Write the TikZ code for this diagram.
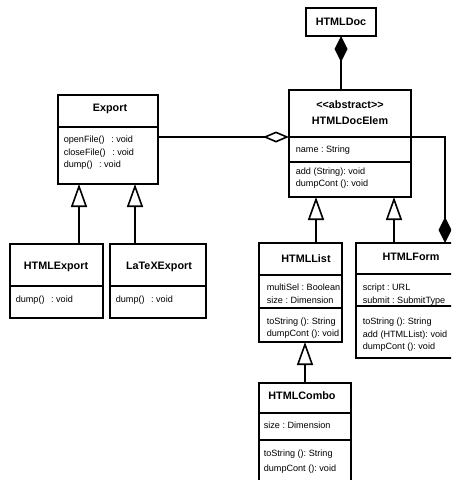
\documentclass[tikz,border=0pt]{standalone}
\usepackage{fontspec}
\setmainfont{Liberation Sans}
\usetikzlibrary{arrows.meta}
\newcommand{\opgap}{\kern6.5pt}
\begin{document}
\frenchspacing
\begin{tikzpicture}[x=1pt,y=-1pt,
  line width=1.6pt,
  classbox/.style={draw,rectangle,inner sep=0pt,outer sep=0pt,anchor=north west},
  title/.style={font=\fontsize{10.8}{12}\selectfont\bfseries,inner sep=0pt},
  member/.style={font=\fontsize{9.1}{11}\selectfont,inner sep=0pt,anchor=mid west},
  divider/.style={line width=1.4pt},
  inherit/.style={-{Triangle[open,length=23pt,width=16pt]}},
  compose/.style={-{Diamond[length=26pt,width=13pt]}},
  aggregate/.style={-{Diamond[open,length=26pt,width=11pt]}}]
\useasboundingbox (0,0) rectangle (451,480);
\clip (0,0) rectangle (451,480);

% class boxes
\node[classbox,minimum width=70pt,minimum height=28pt]  (htmldoc) at (306,8) {};
\node[classbox,minimum width=122pt,minimum height=107pt] (elem) at (289,90) {};
\node[classbox,minimum width=100pt,minimum height=89pt]  (export) at (58,95) {};
\node[classbox,minimum width=93pt,minimum height=74pt]   (htmlexport) at (10,244) {};
\node[classbox,minimum width=96pt,minimum height=74pt]   (latexexport) at (110,244) {};
\node[classbox,minimum width=83pt,minimum height=99pt]   (list) at (259,243) {};
\node[classbox,minimum width=110pt,minimum height=115pt] (form) at (356,243) {};
\node[classbox,minimum width=92pt,minimum height=120pt]  (combo) at (259,383) {};

% compartment lines
\draw[divider] (elem.west |- 0,137) -- (elem.east |- 0,137);
\draw[divider] (elem.west |- 0,162) -- (elem.east |- 0,162);
\draw[divider] (export.west |- 0,127) -- (export.east |- 0,127);
\draw[divider] (htmlexport.west |- 0,286) -- (htmlexport.east |- 0,286);
\draw[divider] (latexexport.west |- 0,286) -- (latexexport.east |- 0,286);
\draw[divider] (list.west |- 0,275) -- (list.east |- 0,275);
\draw[divider] (list.west |- 0,308) -- (list.east |- 0,308);
\draw[divider] (form.west |- 0,274) -- (form.east |- 0,274);
\draw[divider] (form.west |- 0,306) -- (form.east |- 0,306);
\draw[divider] (combo.west |- 0,413) -- (combo.east |- 0,413);
\draw[divider] (combo.west |- 0,440) -- (combo.east |- 0,440);

% HTMLDoc
\node[title] (t-htmldoc) at (341,22) {HTMLDoc};

% HTMLDocElem
\node[title] (s-elem) at (350,105) {{<}{<}abstract{>}{>}};
\node[title] (t-elem) at (350,121) {HTMLDocElem};
\node[member] (a-elem1) at (295,150) {name : String};
\node[member] (o-elem1) at (295,172) {add (String): void};
\node[member] (o-elem2) at (295,184) {dumpCont (): void};

% Export
\node[title] (t-export) at (110,109) {Export};
\node[member] (o-export1) at (63,140) {openFile()\opgap: void};
\node[member] (o-export2) at (63,153) {closeFile()\opgap: void};
\node[member] (o-export3) at (63,165) {dump()\opgap: void};

% HTMLExport
\node[title] (t-htmlexport) at (56,267) {HTMLExport};
\node[member] (o-htmlexport) at (15,300) {dump()\opgap: void};

% LaTeXExport
\node[title] (t-latexexport) at (159,267) {LaTeXExport};
\node[member] (o-latexexport) at (115,300) {dump()\opgap: void};

% HTMLList
\node[title] (t-list) at (306,259) {HTMLList};
\node[member] (a-list1) at (266,288) {multiSel : Boolean};
\node[member] (a-list2) at (266,301) {size : Dimension};
\node[member] (o-list1) at (266,322) {toString (): String};
\node[member] (o-list2) at (266,334) {dumpCont (): void};

% HTMLForm
\node[title] (t-form) at (411,257) {HTMLForm};
\node[member] (a-form1) at (362,288) {script : URL};
\node[member] (a-form2) at (362,301) {submit : SubmitType};
\node[member] (o-form1) at (362,322) {toString (): String};
\node[member] (o-form2) at (362,335) {add (HTMLList): void};
\node[member] (o-form3) at (362,347) {dumpCont (): void};

% HTMLCombo
\node[title] (t-combo) at (302,396) {HTMLCombo};
\node[member] (a-combo1) at (263,426) {size : Dimension};
\node[member] (o-combo1) at (263,454) {toString (): String};
\node[member] (o-combo2) at (263,469) {dumpCont (): void};

% associations
\draw[compose] (elem.north -| 341,0) -- (htmldoc.south -| 341,0);
\draw[aggregate] (export.east |- 0,137) -- (elem.west |- 0,137);
\draw[compose] (elem.east |- 0,137) -| (form.north -| 445,0);

% generalizations
\draw[inherit] (htmlexport.north -| 79,0) -- (export.south -| 79,0);
\draw[inherit] (latexexport.north -| 135,0) -- (export.south -| 135,0);
\draw[inherit] (list.north -| 316,0) -- (elem.south -| 316,0);
\draw[inherit] (form.north -| 394,0) -- (elem.south -| 394,0);
\draw[inherit] (combo.north -| 305,0) -- (list.south -| 305,0);
\end{tikzpicture}
\end{document}
